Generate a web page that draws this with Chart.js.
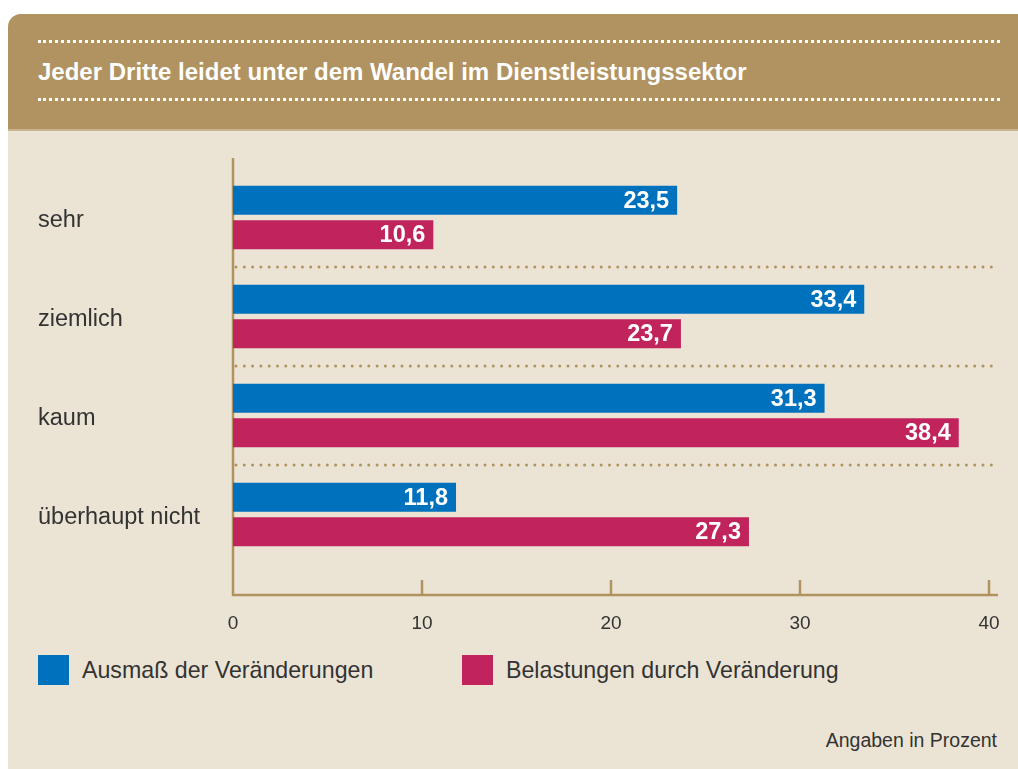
<!DOCTYPE html>
<html lang="de">
<head>
  <meta charset="UTF-8">
  <title>Jeder Dritte leidet unter dem Wandel im Dienstleistungssektor</title>
  <script src="https://cdn.jsdelivr.net/npm/chart.js@4.4.1/dist/chart.umd.min.js"></script>
  <style>
    body {
      margin: 0;
      width: 1018px;
      height: 769px;
      background: #ffffff;
      overflow: hidden;
      font-family: "Liberation Sans", Arial, sans-serif;
    }
    .panel {
      position: absolute;
      left: 8px;
      top: 14px;
      width: 1010px;
      height: 755px;
      background: #ebe4d5;
      border-top-left-radius: 13px;
      overflow: hidden;
    }
    .head {
      position: absolute;
      left: 0;
      top: 0;
      width: 100%;
      height: 115px;
      background: #b09360;
      border-bottom: 2px solid #c9b48e;
    }
    .dots {
      position: absolute;
      left: 30px;
      width: 962px;
      border-top: 3px dotted #ffffff;
    }
    .head h1 {
      position: absolute;
      left: 30px;
      top: 43px;
      margin: 0;
      color: #fff;
      font-size: 24px;
      line-height: 30px;
      font-weight: bold;
    }
    #chartBox {
      position: absolute;
      left: 0;
      top: 130px;
      width: 1018px;
      height: 510px;
    }
    .legend {
      position: absolute;
      top: 655px;
      left: 38px;
      font-size: 23.2px;
      color: #333;
    }
    .legend span.item {
      position: absolute;
      white-space: nowrap;
      line-height: 30px;
    }
    .legend i {
      display: inline-block;
      width: 31px;
      height: 30px;
      vertical-align: top;
      margin-right: 13px;
    }
    .note {
      position: absolute;
      right: 21px;
      top: 729px;
      font-size: 19.5px;
      color: #333;
    }
  </style>
</head>
<body>
  <div class="panel">
    <div class="head">
      <div class="dots" style="top:26px"></div>
      <h1>Jeder Dritte leidet unter dem Wandel im Dienstleistungssektor</h1>
      <div class="dots" style="top:84px"></div>
    </div>
  </div>
  <div id="chartBox"><canvas id="chart"></canvas></div>
  <div class="legend" id="legend"></div>
  <div class="note">Angaben in Prozent</div>

  <script>
    const categories = ['sehr', 'ziemlich', 'kaum', 'überhaupt nicht'];
    const seriesNames = ['Ausmaß der Veränderungen', 'Belastungen durch Veränderung'];
    const ausmass = [23.5, 33.4, 31.3, 11.8];
    const belastungen = [10.6, 23.7, 38.4, 27.3];
    const xTicks = [0, 10, 20, 30, 40];
    const colors = ['#0071bc', '#c1235d'];
    const tan = '#b09360';

    // legend built from the series names
    const legend = document.getElementById('legend');
    const legendX = [0, 424];
    seriesNames.forEach((name, i) => {
      const item = document.createElement('span');
      item.className = 'item';
      item.style.left = legendX[i] + 'px';
      item.innerHTML = '<i style="background:' + colors[i] + '"></i>' + name;
      legend.appendChild(item);
    });

    const fmt = v => v.toFixed(1).replace('.', ',');

    // axis lines, tick marks, dotted separators, value labels
    const decor = {
      id: 'decor',
      beforeDatasetsDraw(chart) {
        const { ctx, chartArea, scales } = chart;
        const x = scales.x, y = scales.y;
        const x0 = x.getPixelForValue(0);
        const axisY = chartArea.bottom + 31;
        const xEnd = x.getPixelForValue(40) + 9;
        ctx.save();
        ctx.strokeStyle = tan;
        ctx.lineWidth = 2.5;
        ctx.beginPath();
        ctx.moveTo(x0, chartArea.top - 10);
        ctx.lineTo(x0, axisY);
        ctx.lineTo(xEnd, axisY);
        ctx.stroke();
        xTicks.slice(1).forEach(t => {
          const px = x.getPixelForValue(t);
          ctx.beginPath();
          ctx.moveTo(px, axisY - 15);
          ctx.lineTo(px, axisY);
          ctx.stroke();
        });
        // dotted separators between categories
        ctx.lineWidth = 3;
        ctx.lineCap = 'round';
        ctx.setLineDash([0, 8.3]);
        for (let i = 0; i < categories.length - 1; i++) {
          const py = Math.round((y.getPixelForValue(i) + y.getPixelForValue(i + 1)) / 2);
          ctx.beginPath();
          ctx.moveTo(x0 + 3, py);
          ctx.lineTo(xEnd, py);
          ctx.stroke();
        }
        ctx.restore();
      },
      afterDatasetsDraw(chart) {
        const { ctx } = chart;
        ctx.save();
        ctx.fillStyle = '#ffffff';
        ctx.font = 'bold 23.5px "Liberation Sans", Arial, sans-serif';
        ctx.textAlign = 'right';
        ctx.textBaseline = 'middle';
        chart.data.datasets.forEach((ds, di) => {
          chart.getDatasetMeta(di).data.forEach((bar, i) => {
            ctx.fillText(fmt(ds.data[i]), bar.x - 8, bar.y + 1);
          });
        });
        ctx.restore();
      }
    };

    new Chart(document.getElementById('chart'), {
      type: 'bar',
      data: {
        labels: categories,
        datasets: [
          { label: seriesNames[0], data: ausmass, backgroundColor: colors[0] },
          { label: seriesNames[1], data: belastungen, backgroundColor: colors[1] }
        ]
      },
      options: {
        indexAxis: 'y',
        responsive: true,
        maintainAspectRatio: false,
        animation: false,
        categoryPercentage: 0.697,
        barPercentage: 0.84,
        layout: { padding: { left: 38, right: 0, top: 38, bottom: 0 } },
        plugins: {
          legend: { display: false },
          tooltip: { enabled: false }
        },
        scales: {
          x: {
            type: 'linear',
            min: 0,
            max: 40,
            afterBuildTicks: axis => { axis.ticks = xTicks.map(v => ({ value: v })); },
            afterFit: axis => { axis.height = 76; axis.paddingRight = 29; },
            grid: { display: false, drawTicks: false },
            border: { display: false },
            ticks: {
              padding: 48,
              color: '#333',
              font: { size: 19, family: '"Liberation Sans", Arial, sans-serif' }
            }
          },
          y: {
            afterFit: axis => { axis.width = 195; },
            grid: { display: false, drawTicks: false },
            border: { display: false },
            ticks: {
              crossAlign: 'far',
              padding: 0,
              labelOffset: 3,
              color: '#333',
              font: { size: 23.5, family: '"Liberation Sans", Arial, sans-serif' }
            }
          }
        }
      },
      plugins: [decor]
    });
  </script>
</body>
</html>
